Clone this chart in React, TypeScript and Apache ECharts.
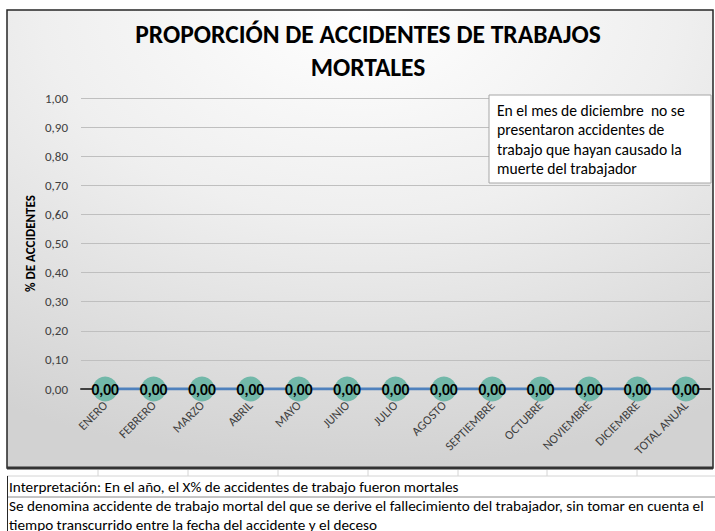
import React, { useEffect, useRef } from "react";
import * as echarts from "echarts";

const categories = [
  "ENERO", "FEBRERO", "MARZO", "ABRIL", "MAYO", "JUNIO", "JULIO",
  "AGOSTO", "SEPTIEMBRE", "OCTUBRE", "NOVIEMBRE", "DICIEMBRE", "TOTAL ANUAL",
];
const proportion = [0, 0, 0, 0, 0, 0, 0, 0, 0, 0, 0, 0, 0];
const yMin = 0;
const yMax = 1;
const yStep = 0.1;
const yAxisTitle = "% DE ACCIDENTES";
const titleLines = ["PROPORCIÓN DE ACCIDENTES DE TRABAJOS", "MORTALES"];
const noteLines = [
  "En el mes de diciembre  no se",
  "presentaron accidentes de",
  "trabajo que hayan causado la",
  "muerte del trabajador",
];
const footerLines = [
  "Interpretación: En el año, el X% de accidentes de trabajo fueron mortales",
  "Se denomina accidente de trabajo mortal del que se derive el fallecimiento del trabajador, sin tomar en cuenta el",
  "tiempo transcurrido entre la fecha del accidente y el deceso",
];
const cellColumnEdges = [98, 188, 278, 368, 458, 547, 637];

const FONT = "Carlito, 'Liberation Sans', Arial, sans-serif";
const fmt = (v: number) => v.toFixed(2).replace(".", ",");

export default function App() {
  const ref = useRef<HTMLDivElement>(null);
  useEffect(() => {
    if (!ref.current) return;
    const chart = echarts.init(ref.current, undefined, { renderer: "svg" });
    const graphic: any[] = [
      {
        type: "rect",
        z: -100,
        shape: { x: 7, y: 10, width: 706, height: 458 },
        style: {
          fill: new echarts.graphic.RadialGradient(0.5, 0.0, 1.0, [
            { offset: 0, color: "#ffffff" },
            { offset: 0.45, color: "#efefef" },
            { offset: 1, color: "#d2d2d2" },
          ]),
          stroke: "#262626",
          lineWidth: 1.5,
        },
      },
      {
        type: "line",
        z: -99,
        shape: { x1: 7, y1: 468, x2: 713, y2: 468 },
        style: { stroke: "#333333", lineWidth: 3 },
      },
      ...titleLines.map((t, i) => ({
        type: "text",
        z: 50,
        style: {
          text: t,
          x: 368,
          y: 34 + i * 33,
          align: "center",
          verticalAlign: "middle",
          font: `bold 25.5px ${FONT}`,
          fill: "#000000",
        },
      })),
      {
        type: "rect",
        z: 100,
        shape: { x: 489, y: 95, width: 222, height: 88 },
        style: { fill: "#ffffff", stroke: "#a6a6a6", lineWidth: 1 },
      },
      ...noteLines.map((t, i) => ({
        type: "text",
        z: 101,
        style: {
          text: t,
          x: 497,
          y: 110 + i * 19.5,
          align: "left",
          verticalAlign: "middle",
          font: `15.6px ${FONT}`,
          fill: "#000000",
        },
      })),
      {
        type: "line",
        z: 10,
        shape: { x1: 7, y1: 476, x2: 715, y2: 476 },
        style: { stroke: "#d4d4d4", lineWidth: 1 },
      },
      ...cellColumnEdges.map((x) => ({
        type: "line",
        z: 10,
        shape: { x1: x, y1: 470, x2: x, y2: 476 },
        style: { stroke: "#d4d4d4", lineWidth: 1 },
      })),
      {
        type: "line",
        z: 10,
        shape: { x1: 7, y1: 497, x2: 715, y2: 497 },
        style: { stroke: "#8c8c8c", lineWidth: 1 },
      },
      {
        type: "line",
        z: 10,
        shape: { x1: 7.5, y1: 476, x2: 7.5, y2: 531 },
        style: { stroke: "#262626", lineWidth: 1 },
      },
      ...footerLines.map((t, i) => ({
        type: "text",
        z: 11,
        style: {
          text: t,
          x: 9,
          y: 487 + i * 19,
          align: "left",
          verticalAlign: "middle",
          font: `15.2px ${FONT}`,
          fill: "#000000",
        },
      })),
    ];

    chart.setOption({
      animation: false,
      backgroundColor: "#ffffff",
      grid: { left: 81, right: 5, top: 98, bottom: 142, containLabel: false },
      xAxis: {
        type: "category",
        data: categories,
        boundaryGap: true,
        axisLine: { show: true, lineStyle: { color: "#404040", width: 2 } },
        axisTick: { show: false },
        axisLabel: {
          rotate: 45,
          margin: 14,
          fontSize: 12.5,
          color: "#404040",
          fontFamily: FONT,
          interval: 0,
        },
        splitLine: { show: false },
      },
      yAxis: {
        type: "value",
        min: yMin,
        max: yMax,
        interval: yStep,
        name: yAxisTitle,
        nameLocation: "middle",
        nameRotate: 90,
        nameGap: 44,
        nameMoveOverlap: false,
        nameTextStyle: {
          fontSize: 13,
          fontWeight: "bold",
          color: "#000000",
          fontFamily: FONT,
        },
        axisLine: { show: false },
        axisTick: { show: false },
        axisLabel: {
          margin: 13,
          fontSize: 13,
          color: "#404040",
          fontFamily: FONT,
          formatter: (v: number) => fmt(v),
        },
        splitLine: { show: true, lineStyle: { color: "#bfbfbf", width: 1 } },
      },
      series: [
        {
          type: "line",
          data: proportion,
          z: 5,
          symbol: "circle",
          symbolSize: 25,
          lineStyle: { color: "#4f81bd", width: 3 },
          itemStyle: { color: "#72b8a9", borderWidth: 0 },
          label: {
            show: true,
            position: "inside",
            formatter: (p: any) => fmt(p.value),
            fontSize: 15.5,
            fontWeight: "bold",
            color: "#000000",
            fontFamily: FONT,
          },
        },
      ],
      graphic,
    });
    return () => chart.dispose();
  }, []);
  return (
    <div
      ref={ref}
      style={{ position: "absolute", left: 0, top: 0, width: 715, height: 531 }}
    />
  );
}
